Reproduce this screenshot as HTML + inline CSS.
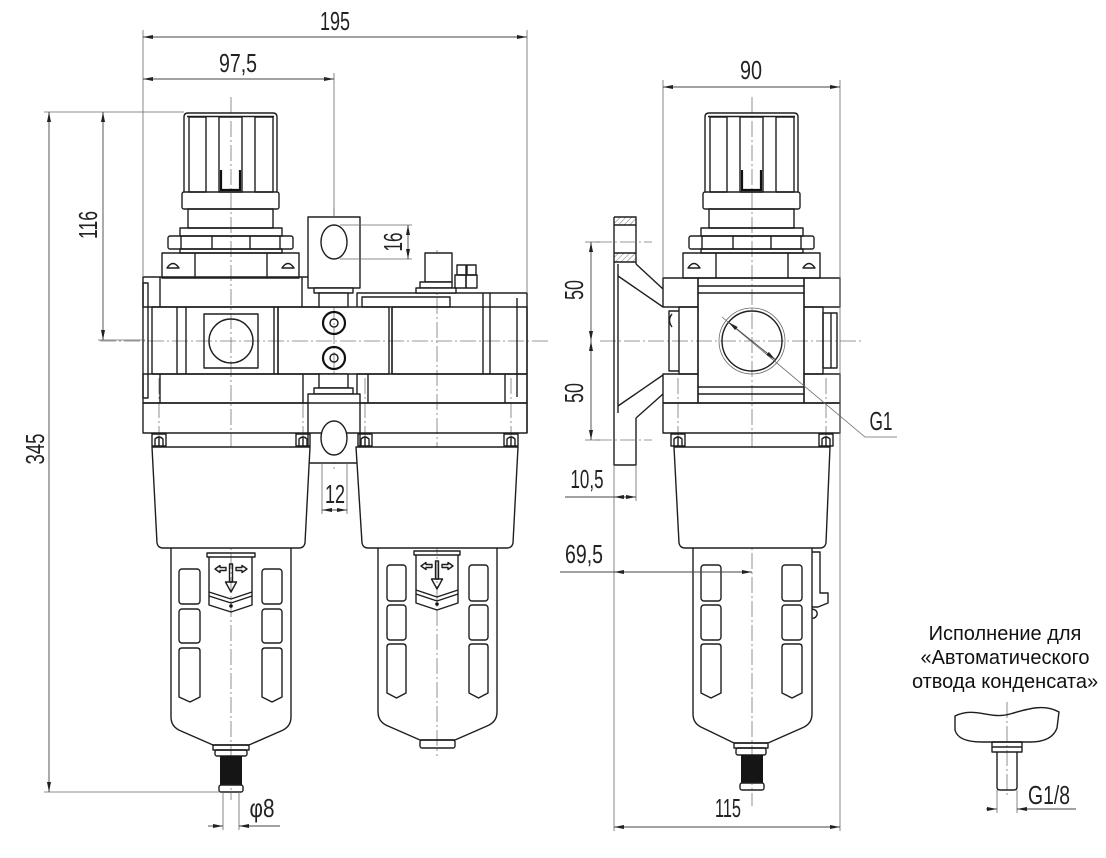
<!DOCTYPE html>
<html><head><meta charset="utf-8"><style>
html,body{margin:0;padding:0;background:#fff;}
svg{display:block;}
.k{fill:none;stroke:#1e1e1e;stroke-width:1.4;stroke-linejoin:round}
.f{fill:#fff;stroke:#1e1e1e;stroke-width:1.4;stroke-linejoin:round}
.n{fill:none;stroke:#6a6a6a;stroke-width:0.8}
.c{fill:none;stroke:#777;stroke-width:0.8;stroke-dasharray:16 3 2 3}
.d{fill:none;stroke:#444;stroke-width:0.9}
.dm{fill:none;stroke:#444;stroke-width:0.9;marker-start:url(#ar);marker-end:url(#ar)}
.de{fill:none;stroke:#444;stroke-width:0.9;marker-end:url(#ar)}
.t{font-family:"Liberation Sans",sans-serif;font-size:26px;fill:#222}
.r{font-family:"Liberation Sans",sans-serif;font-size:20px;fill:#111}
</style></head><body>
<svg width="1106" height="858" viewBox="0 0 1106 858" xmlns="http://www.w3.org/2000/svg">
<defs>
<marker id="ar" viewBox="0 0 10 4" refX="10" refY="2" markerWidth="10" markerHeight="4" markerUnits="userSpaceOnUse" orient="auto-start-reverse"><path d="M0,0 L10,2 L0,4 Z" fill="#222"/></marker>
<pattern id="h" width="4" height="4" patternUnits="userSpaceOnUse" patternTransform="rotate(45)"><line x1="0" y1="0" x2="0" y2="4" stroke="#555" stroke-width="0.8"/></pattern>
<g id="reg">
 <path class="k" d="M-47,192 V117 Q-47,113 -43,113 H42 Q46,113 46,117 V192"/>
 <line class="k" x1="-44" y1="116.5" x2="43" y2="116.5"/>
 <rect class="k" x="-49" y="192" width="97" height="17" rx="2"/>
 <rect class="k" x="-42" y="117" width="17" height="75"/>
 <rect class="k" x="-12" y="117" width="23" height="75"/>
 <rect class="k" x="24" y="117" width="18" height="75"/>
 <path d="M-10,170 V190 H9 V170" stroke="#111" stroke-width="2.2" fill="none"/>
 <rect class="k" x="-43" y="209" width="85" height="19"/>
 <rect class="k" x="-51" y="228" width="102" height="8"/>
 <rect class="k" x="-63" y="236" width="125" height="13" rx="2"/>
 <path class="k" d="M-50,236 V249 M-19,236 V249 M19,236 V249 M49,236 V249"/>
 <rect class="k" x="-51" y="249" width="102" height="4"/>
 <rect class="k" x="-69" y="253" width="137" height="25"/>
 <path class="k" d="M-36,253 V278 M36,253 V278"/>
 <path class="k" d="M-64,268 Q-58,259 -52,268 Z M51,268 Q57,259 63,268 Z"/>
</g>
<g id="scr">
 <rect class="k" x="-7" y="434" width="14" height="12"/>
 <path class="k" d="M-4,446 V439 Q0,435 4,439 V446 M0,437 V446"/>
</g>
</defs>

<!-- ============ CENTER LINES ============ -->
<path class="c" d="M100,341 H548 M600,341 H862 M231,97 V800 M752,97 V806 M334,208 V472 M437,250 V756 M1007,702 V796"/>
<path class="c" d="M159,378 V452 M303,378 V452 M365,378 V452 M511,378 V452 M678,378 V452 M826,378 V452 M314,242 H354 M314,438 H354"/>

<!-- ============ LEFT VIEW ============ -->
<use href="#reg" x="231"/>
<rect class="k" x="143" y="277" width="177" height="30"/>
<rect class="k" x="143" y="374" width="177" height="29"/>
<rect class="k" x="143" y="283" width="5" height="115"/>
<path class="k" d="M160,277 V307 M302,277 V307 M160,374 V403 M303,374 V403"/>
<rect class="k" x="152" y="307" width="126" height="67"/>
<path class="k" d="M177,307 V374 M186,307 V374 M274,307 V374"/>
<rect class="k" x="204" y="314" width="54" height="54"/>
<circle class="k" cx="231" cy="341" r="22"/>
<rect class="k" x="143" y="403" width="175" height="30"/>
<rect class="k" x="278" y="307" width="111" height="67"/>
<path class="k" d="M392,307 V374"/>
<circle cx="334" cy="323" r="11" fill="none" stroke="#111" stroke-width="2.2"/>
<circle class="k" cx="334" cy="323" r="4"/>
<circle cx="334" cy="358" r="11" fill="none" stroke="#111" stroke-width="2.2"/>
<circle class="k" cx="334" cy="358" r="4"/>
<path class="k" d="M357,307 V293 H527 V433"/>
<rect class="k" x="362" y="297" width="88" height="10"/>
<rect class="k" x="392" y="307" width="135" height="67"/>
<path class="k" d="M483,293 V374 M490,293 V374 M517,298 V397"/>
<rect class="k" x="357" y="374" width="170" height="29"/>
<path class="k" d="M368,374 V403 M505,374 V403"/>
<rect class="k" x="348" y="403" width="179" height="30"/>
<rect class="f" x="425" y="253" width="27" height="29"/>
<rect class="f" x="420" y="282" width="32" height="6"/>
<rect class="f" x="416" y="288" width="40" height="5"/>
<rect class="k" x="457" y="265" width="9" height="10"/>
<rect class="k" x="467" y="265" width="9" height="10"/>
<rect class="k" x="455" y="275" width="11" height="13"/>
<rect class="k" x="466" y="275" width="11" height="13"/>
<rect class="f" x="308" y="217" width="52" height="71"/>
<ellipse class="k" cx="334" cy="242" rx="13" ry="17"/>
<rect class="f" x="314" y="288" width="39" height="5"/>
<rect class="f" x="319" y="293" width="29" height="14"/>
<rect class="f" x="319" y="374" width="29" height="14"/>
<rect class="f" x="314" y="388" width="39" height="6"/>
<rect class="f" x="308" y="394" width="52" height="69"/>
<path class="k" d="M308,403 H360 M308,433 H360"/>
<ellipse class="f" cx="334" cy="438" rx="13" ry="17"/>
<use href="#scr" x="159"/><use href="#scr" x="303"/><use href="#scr" x="365"/><use href="#scr" x="511"/>

<path class="f" d="M152,447 H310 L305,543 Q304,548 299,548 H163 Q158,548 157,543 Z"/>
<path class="k" d="M171,548 V717 Q171,727 181,731 L213,745 H249 L281,731 Q291,727 291,717 V548"/>
<rect class="k" x="179" y="569" width="21" height="35" rx="3"/>
<rect class="k" x="179" y="609" width="21" height="34" rx="3"/>
<path class="k" d="M179,651 Q179,648 182,648 H197 Q200,648 200,651 V697 L190,702 L179,697 Z"/>
<rect class="k" x="262" y="569" width="20" height="35" rx="3"/>
<rect class="k" x="262" y="609" width="20" height="34" rx="3"/>
<path class="k" d="M262,651 Q262,648 265,648 H279 Q282,648 282,651 V697 L272,702 L262,697 Z"/>
<rect class="k" x="207" y="553" width="48" height="4"/>
<path class="k" d="M209,557 V605 L231,612 L252,605 V557"/>
<path class="k" d="M209,592 L231,599 L252,592 M209,596 L231,603 L252,596"/>
<path class="k" stroke-width="1" d="M215,569 L220,565.5 V567.5 H226 V570.5 H220 V572.5 Z M247,569 L242,565.5 V567.5 H236 V570.5 H242 V572.5 Z"/>
<rect class="k" x="229.5" y="564" width="3" height="18"/>
<path class="k" d="M225.5,582 H236.5 L231,592 Z"/>
<circle cx="231" cy="606" r="1.8" fill="#111"/>
<rect class="k" x="213" y="745" width="36" height="5"/>
<rect class="k" x="215" y="750" width="32" height="6" rx="2"/>
<rect x="220" y="756" width="22" height="29" fill="#151515"/>
<rect class="k" x="219" y="785" width="24" height="7" rx="2"/>

<path class="f" d="M356,447 H518 L513,543 Q512,548 507,548 H368 Q363,548 362,543 Z"/>
<path class="k" d="M378,548 V712 Q378,722 388,726 L420,740 H455 L487,726 Q497,722 497,712 V548"/>
<rect class="k" x="420" y="740" width="35" height="8" rx="2"/>
<rect class="k" x="387" y="565" width="19" height="36" rx="3"/>
<rect class="k" x="387" y="605" width="19" height="35" rx="3"/>
<path class="k" d="M387,647 Q387,644 390,644 H403 Q406,644 406,647 V693 L396.5,698 L387,693 Z"/>
<rect class="k" x="469" y="565" width="19" height="36" rx="3"/>
<rect class="k" x="469" y="605" width="19" height="35" rx="3"/>
<path class="k" d="M469,647 Q469,644 472,644 H485 Q488,644 488,647 V693 L478.5,698 L469,693 Z"/>
<rect class="k" x="414" y="551" width="46" height="4"/>
<path class="k" d="M416,555 V603 L437,610 L458,603 V555"/>
<path class="k" d="M416,590 L437,597 L458,590 M416,594 L437,601 L458,594"/>
<path class="k" stroke-width="1" d="M421,566 L426,562.5 V564.5 H432 V567.5 H426 V569.5 Z M453,566 L448,562.5 V564.5 H442 V567.5 H448 V569.5 Z"/>
<rect class="k" x="435.5" y="561" width="3" height="18"/>
<path class="k" d="M431.5,579 H442.5 L437,589 Z"/>
<circle cx="437" cy="604" r="1.8" fill="#111"/>

<!-- ============ SIDE VIEW ============ -->
<use href="#reg" x="752"/>
<rect class="k" x="663" y="278" width="35" height="29"/>
<rect class="k" x="804" y="278" width="36" height="29"/>
<rect class="k" x="698" y="278" width="106" height="125"/>
<path class="k" d="M698,286 H804 M698,293 H804 M698,387 H804 M698,394 H804"/>
<rect class="k" x="679" y="307" width="19" height="67"/>
<path class="k" d="M679,311 H669 V371 H679"/>
<path class="k" d="M672,314 Q667,320 672,327"/>
<rect class="k" x="804" y="307" width="19" height="67"/>
<rect class="k" x="823" y="313" width="14" height="55"/>
<path class="k" d="M831,313 V368"/>
<rect class="k" x="663" y="374" width="35" height="29"/>
<rect class="k" x="804" y="374" width="36" height="29"/>
<rect class="k" x="663" y="403" width="177" height="30"/>
<circle class="n" cx="752" cy="341" r="33"/>
<circle class="k" cx="752" cy="341" r="30"/>
<use href="#scr" x="678"/><use href="#scr" x="826"/>
<rect x="614" y="217" width="22" height="8" fill="url(#h)"/>
<rect x="614" y="253" width="22" height="9" fill="url(#h)"/>
<path class="k" d="M614,217 V465 H636 V418 M636,264 V217 H614 M614,225 H636 M614,253 H636 M614,262 H636"/>
<path class="k" d="M618,264 V413 M618,276 L663,307 M636,264 L663,289 M618,406 L663,375 M636,418 L663,394"/>
<path class="c" d="M596,242 H652 M596,440 H652"/>
<path class="f" d="M674,447 H830 L826,543 Q825,548 820,548 H685 Q680,548 679,543 Z"/>
<path class="k" d="M693,548 V714 Q693,724 703,728 L734,743 H768 L802,728 Q812,724 812,714 V548"/>
<path class="k" d="M812,552 H820 V593 H828 V603 L818,607 H812 M812,609 Q818,610 817,615 Q815,619 812,618"/>
<rect class="k" x="701" y="565" width="20" height="36" rx="3"/>
<rect class="k" x="701" y="605" width="20" height="35" rx="3"/>
<path class="k" d="M701,647 Q701,644 704,644 H718 Q721,644 721,647 V693 L711,698 L701,693 Z"/>
<rect class="k" x="782" y="565" width="20" height="36" rx="3"/>
<rect class="k" x="782" y="605" width="20" height="35" rx="3"/>
<path class="k" d="M782,647 Q782,644 785,644 H799 Q802,644 802,647 V693 L792,698 L782,693 Z"/>
<rect class="k" x="734" y="743" width="34" height="5"/>
<rect class="k" x="736" y="748" width="30" height="7" rx="2"/>
<rect x="741" y="755" width="22" height="28" fill="#151515"/>
<rect class="k" x="740" y="783" width="24" height="7" rx="2"/>

<!-- ============ INSET ============ -->
<text class="r" x="1005" y="640" text-anchor="middle">Исполнение для</text>
<text class="r" x="1005" y="664" text-anchor="middle">«Автоматического</text>
<text class="r" x="1005" y="688" text-anchor="middle">отвода конденсата»</text>
<path class="k" d="M955,716 C975,706 990,720 1010,714 C1030,708 1045,704 1059,712 L1057,728 Q1052,742 1030,742 H982 Q958,742 955,730 Z"/>
<rect class="k" x="992" y="742" width="30" height="10"/>
<path class="k" d="M992,747 H1022"/>
<path class="k" d="M997,752 V787 Q997,790 1000,790 H1014 Q1017,790 1017,787 V752"/>
<path class="n" d="M997,790 V813 M1017,790 V813"/>
<path class="de" d="M986,809 H997"/>
<path class="de" d="M1076,809 H1017"/>
<text class="t" x="1049" y="804" text-anchor="middle" textLength="42" lengthAdjust="spacingAndGlyphs">G1/8</text>

<!-- ============ DIMENSIONS ============ -->
<path class="n" d="M143,30 V277 M527,30 V293 M334,73 V217"/>
<path class="dm" d="M143,37 H527"/>
<path class="dm" d="M143,79 H334"/>
<text class="t" x="335" y="30" text-anchor="middle" textLength="30" lengthAdjust="spacingAndGlyphs">195</text>
<text class="t" x="238" y="72" text-anchor="middle" textLength="38" lengthAdjust="spacingAndGlyphs">97,5</text>
<path class="n" d="M44,112 H184 M44,792 H220 M98,340 H145"/>
<path class="dm" d="M49,112 V792"/>
<path class="dm" d="M103,112 V340"/>
<text class="t" transform="translate(44,449) rotate(-90)" text-anchor="middle" textLength="31" lengthAdjust="spacingAndGlyphs">345</text>
<text class="t" transform="translate(97,225) rotate(-90)" text-anchor="middle" textLength="28" lengthAdjust="spacingAndGlyphs">116</text>
<path class="n" d="M340,225 H412 M340,259 H412"/>
<path class="dm" d="M408,225 V259"/>
<text class="t" transform="translate(402,242) rotate(-90)" text-anchor="middle" textLength="19" lengthAdjust="spacingAndGlyphs">16</text>
<path class="n" d="M322,463 V514 M347,463 V514"/>
<path class="dm" d="M322,510 H347"/>
<text class="t" x="335" y="503" text-anchor="middle" textLength="20" lengthAdjust="spacingAndGlyphs">12</text>
<path class="n" d="M223,792 V830 M239,792 V830"/>
<path class="de" d="M208,826 H223"/>
<path class="de" d="M280,826 H239"/>
<text class="t" x="262" y="817" text-anchor="middle" textLength="25" lengthAdjust="spacingAndGlyphs">φ8</text>
<path class="n" d="M663,80 V278 M840,80 V831"/>
<path class="dm" d="M663,87 H840"/>
<text class="t" x="751" y="79" text-anchor="middle" textLength="22" lengthAdjust="spacingAndGlyphs">90</text>
<path class="n" d="M585,242 H600 M585,440 H600"/>
<path class="dm" d="M591,242 V341"/>
<path class="dm" d="M591,341 V440"/>
<text class="t" transform="translate(583,290) rotate(-90)" text-anchor="middle" textLength="20" lengthAdjust="spacingAndGlyphs">50</text>
<text class="t" transform="translate(583,393) rotate(-90)" text-anchor="middle" textLength="20" lengthAdjust="spacingAndGlyphs">50</text>
<path class="n" d="M614,465 V831 M636,465 V501"/>
<path class="d" d="M565,497 H614"/>
<path class="dm" d="M614,497 H636"/>
<text class="t" x="587" y="488" text-anchor="middle" textLength="33" lengthAdjust="spacingAndGlyphs">10,5</text>
<path class="d" d="M560,572 H614"/>
<path class="dm" d="M614,572 H752"/>
<text class="t" x="584" y="563" text-anchor="middle" textLength="38" lengthAdjust="spacingAndGlyphs">69,5</text>
<path class="dm" d="M614,827 H840"/>
<text class="t" x="728" y="817" text-anchor="middle" textLength="26" lengthAdjust="spacingAndGlyphs">115</text>
<path class="n" d="M722,317 L865,437 H897"/>
<path class="dm" d="M728.6,322.3 L775.4,359.7"/>
<text class="t" x="881" y="430" text-anchor="middle" textLength="23" lengthAdjust="spacingAndGlyphs">G1</text>
</svg>
</body></html>
